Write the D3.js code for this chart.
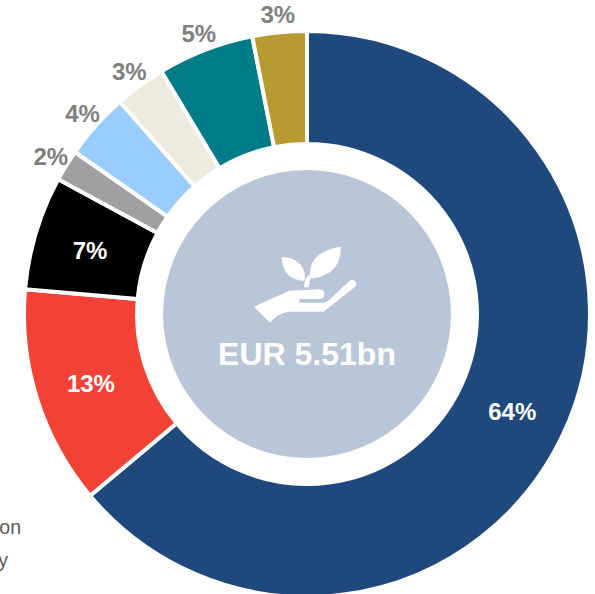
<!DOCTYPE html>
<html>
<head>
<meta charset="utf-8">
<script src="https://cdn.jsdelivr.net/npm/d3@7"></script>
<style>
  html, body { margin: 0; padding: 0; background: #fff; overflow: hidden; }
  svg { display: block; font-family: "Liberation Sans", Arial, sans-serif; }
</style>
</head>
<body>
<div id="chart"></div>
<script>
// Values, clockwise from the top
const shares = [63.9, 12.5, 6.5, 1.8, 3.8, 2.9, 5.5, 3.1];
const labels = ["64%", "13%", "7%", "2%", "4%", "3%", "5%", "3%"];
const colors = ["#1f497d", "#f24236", "#000000", "#a0a0a2", "#99ccff", "#edebe0", "#007c89", "#b89b30"];
const labelOutside = [false, false, false, true, true, true, true, true];
const totalLabel = "EUR 5.51bn";

const width = 595, height = 594;
const cx = 307, cy = 314;
const outerRadius = 283, innerRadius = 170, coreRadius = 144, labelRadius = 301;

const svg = d3.select("#chart").append("svg")
    .attr("width", width)
    .attr("height", height);

const pie = d3.pie().sort(null).value(d => d);
const arc = d3.arc().innerRadius(innerRadius).outerRadius(outerRadius);
const outsideArc = d3.arc().innerRadius(labelRadius).outerRadius(labelRadius);

const g = svg.append("g").attr("transform", `translate(${cx},${cy})`);
const slices = pie(shares);

// Slices
g.selectAll("path.slice")
    .data(slices)
    .enter()
    .append("path")
    .attr("class", "slice")
    .attr("d", arc)
    .attr("fill", (d, i) => colors[i])
    .attr("stroke", "#fff")
    .attr("stroke-width", 4);

// Percent labels
g.selectAll("text.share")
    .data(slices)
    .enter()
    .append("text")
    .attr("class", "share")
    .attr("transform", (d, i) => `translate(${(labelOutside[i] ? outsideArc : arc).centroid(d)})`)
    .attr("text-anchor", "middle")
    .attr("dy", (d, i) => labelOutside[i] ? "0.36em" : "0.42em")
    .attr("font-size", 24)
    .attr("font-weight", "bold")
    .attr("fill", (d, i) => labelOutside[i] ? "#808080" : "#fff")
    .text((d, i) => labels[i]);

// Centre circle
g.append("circle")
    .attr("r", coreRadius)
    .attr("fill", "#b9c6d7");

g.append("text")
    .attr("y", 39)
    .attr("dy", "0.36em")
    .attr("text-anchor", "middle")
    .attr("font-size", 32)
    .attr("font-weight", "bold")
    .attr("fill", "#fff")
    .text(totalLabel);

// Hand and plant icon
const icon = svg.append("g")
    .attr("transform", "translate(230,230) scale(0.3333)")
    .attr("fill", "#fff");

icon.append("path")
    .attr("d", "M72,230 L178,182 L268,178 Q285,180 283,195 Q282,207 268,207 L208,207 L208,218 L282,218 Q292,216 300,208 L358,153 Q372,146 378,157 Q381,167 370,175 L280,245 L175,245 Q140,252 120,278 Z");
icon.append("path")
    .attr("d", "M155,82 Q205,82 222,122 Q228,140 222,152 Q160,152 155,82 Z");
icon.append("path")
    .attr("d", "M332,50 Q335,130 252,145 Q244,148 240,140 Q235,65 332,50 Z");
icon.append("path")
    .attr("d", "M222,172 L225,150 L234,135 L244,140 L238,155 L237,172 Z");

// Text cut off at the left edge of the picture
svg.append("text")
    .attr("x", 21).attr("y", 534)
    .attr("text-anchor", "end")
    .attr("font-size", 19.5)
    .attr("fill", "#595959")
    .text("on");
svg.append("text")
    .attr("x", 8).attr("y", 567)
    .attr("text-anchor", "end")
    .attr("font-size", 19.5)
    .attr("fill", "#595959")
    .text("y");
</script>
</body>
</html>
